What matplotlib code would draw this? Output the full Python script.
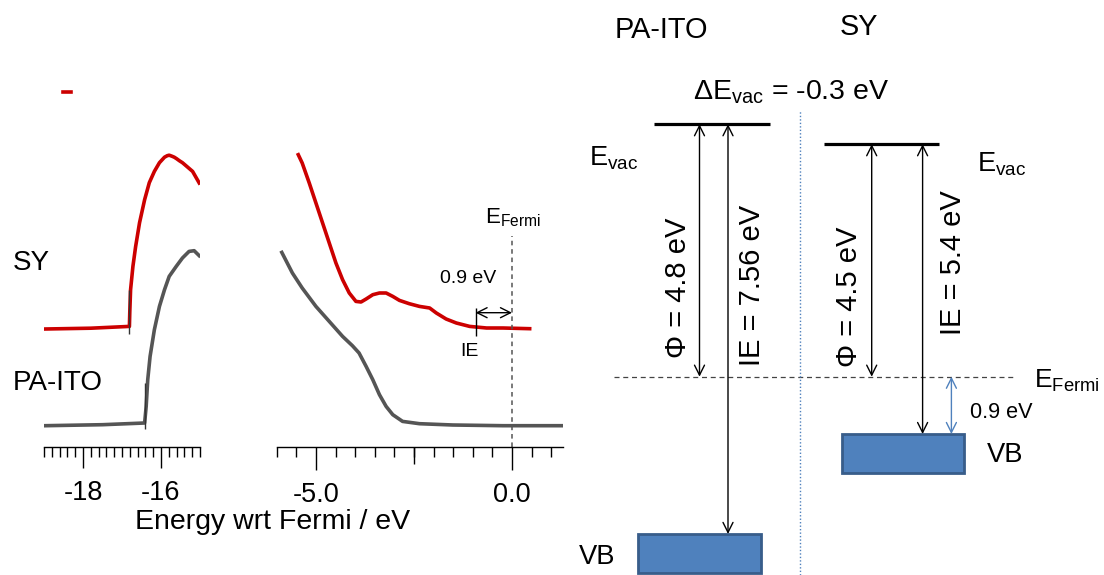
import matplotlib; matplotlib.use("Agg")
import matplotlib.pyplot as plt
from matplotlib.ticker import MultipleLocator, FormatStrFormatter
from matplotlib.patches import Rectangle

plt.rcParams['font.family'] = ['Liberation Sans', 'DejaVu Sans']
plt.rcParams['mathtext.fontset'] = 'custom'
plt.rcParams['mathtext.rm'] = 'Liberation Sans'
plt.rcParams['mathtext.it'] = 'Liberation Sans:italic'
plt.rcParams['axes.unicode_minus'] = False

# ---- UPS spectra (energy wrt Fermi / eV, intensity a.u.)
sy_cut_e = [-18.97, -17.8, -16.81, -16.80, -16.78, -16.72, -16.65, -16.55, -16.42, -16.30, -16.17,
            -16.04, -15.91, -15.84, -15.79, -15.72, -15.66, -15.60, -15.53, -15.45, -15.36, -15.19, -15.02]
sy_cut_i = [117.7, 118.5, 120.3, 135, 157, 180.3, 200.3, 224, 247, 264, 275.3,
            284, 289.5, 291, 291.5, 290.5, 289.5, 288, 286, 284, 281, 275.3, 263.7]
ito_cut_e = [-18.97, -17.5, -16.42, -16.38, -16.34, -16.28, -16.17, -16.04, -15.91, -15.79,
             -15.61, -15.45, -15.28, -15.15, -15.02]
ito_cut_i = [21, 22, 23.7, 40.3, 67, 90.3, 117, 140.3, 157, 170.3,
             180.3, 188.7, 195.3, 196, 191]
sy_cutoff = -16.81
ito_cutoff = -16.42
stray_e = [-18.52, -18.32]   # little red dash left over in the original
stray_i = [354.3, 354.3]

sy_val_e = [-5.45, -5.35, -5.17, -5.00, -4.83, -4.66, -4.49, -4.32, -4.15, -3.98, -3.85, -3.72,
            -3.55, -3.38, -3.21, -3.04, -2.87, -2.62, -2.36, -2.10, -1.93, -1.68, -1.42, -1.08,
            -0.65, -0.23, 0.45]
sy_val_i = [292, 283.7, 263.7, 243.7, 223.7, 203.7, 183.7, 167, 153.7, 145.3, 144.7, 147.7,
            152, 153.7, 153.7, 150.3, 146.3, 143, 140.3, 138.7, 133.7, 127.7, 123.7, 120.3,
            118.7, 118.7, 118]
ito_val_e = [-5.87, -5.60, -5.35, -5.00, -4.66, -4.32, -4.07, -3.90, -3.72, -3.55, -3.38, -3.21,
             -3.04, -2.79, -2.36, -1.51, -0.23, 1.30]
ito_val_i = [194.3, 173.7, 158.7, 140.3, 125.3, 110.3, 101, 93.7, 80.3, 67, 52, 40.3,
             32, 25.3, 23, 21.7, 21, 21]
sy_ie_onset = -0.93

# ---- energy level diagram
materials = ['PA-ITO', 'SY']
work_function = [4.8, 4.5]
ionisation_energy = [7.56, 5.4]
hole_barrier = 0.9
delta_evac = -0.3
# positions as drawn in the schematic (eV above E_F)
evac_drawn = [4.80, 4.42]
vb_top_drawn = [-2.99, -1.09]
vb_depth = 0.75

RED, GREY = '#CC0000', '#555555'
BLUE, BLUE_EDGE = '#4F81BD', '#385D8A'
W, H = 1104, 575
fx = lambda px: px / W
fy = lambda py: 1 - py / H

fig = plt.figure(figsize=(W / 100, H / 100), dpi=100)
ax_bot, ax_top = 446.7, 60
ax1 = fig.add_axes([fx(44), fy(ax_bot), fx(200 - 44), (ax_bot - ax_top) / H])
ax2 = fig.add_axes([fx(276.7), fy(ax_bot), fx(563 - 276.7), (ax_bot - ax_top) / H])

for ax in (ax1, ax2):
    ax.set_ylim(0, ax_bot - ax_top)
    for s in ('left', 'right', 'top'):
        ax.spines[s].set_visible(False)
    ax.spines['bottom'].set_linewidth(1.0)
    ax.set_yticks([])
    ax.patch.set_alpha(0)
    ax.tick_params(axis='x', which='both', direction='out', width=1.0, labelsize=19.5, pad=9)

lw = 2.6
ax1.plot(sy_cut_e, sy_cut_i, color=RED, lw=lw, solid_joinstyle='round')
ax1.plot(ito_cut_e, ito_cut_i, color=GREY, lw=lw, solid_joinstyle='round')
ax1.plot(stray_e, stray_i, color=RED, lw=lw)
ax1.vlines(sy_cutoff, 112.7, 157, color='#333333', lw=1.0)
ax1.vlines(ito_cutoff, 17.7, 63.7, color='#333333', lw=1.0)
ax1.set_xlim(-19, -15)
ax1.xaxis.set_major_locator(MultipleLocator(2))
ax1.xaxis.set_minor_locator(MultipleLocator(0.2))
ax1.xaxis.set_major_formatter(FormatStrFormatter('%d'))
ax1.tick_params(axis='x', which='major', length=15)
ax1.tick_params(axis='x', which='minor', length=7)

ax2.plot(sy_val_e, sy_val_i, color=RED, lw=lw, solid_joinstyle='round')
ax2.plot(ito_val_e, ito_val_i, color=GREY, lw=lw, solid_joinstyle='round')
ax2.vlines(0, 0, 211, color='#555555', lw=1.1, linestyles=(0, (3, 2.5)))
ax2.vlines(sy_ie_onset, 111, 139, color='k', lw=1.0)
ax2.annotate('', xy=(0, 134), xytext=(sy_ie_onset, 134),
             arrowprops=dict(arrowstyle='<->', lw=1.0, color='k', mutation_scale=18,
                             shrinkA=0, shrinkB=0))
ax2.text(-1.11, 168, f'{hole_barrier} eV', ha='center', va='center', fontsize=14)
ax2.text(-1.08, 95, 'IE', ha='center', va='center', fontsize=14)
ax2.text(-0.70, 223.7, r'$\mathregular{E_{Fermi}}$', ha='left', va='baseline', fontsize=16)
ax2.set_xlim(-6, 1.3)
ax2.xaxis.set_major_locator(MultipleLocator(5))
ax2.xaxis.set_minor_locator(MultipleLocator(0.5))
ax2.xaxis.set_major_formatter(FormatStrFormatter('%.1f'))
ax2.tick_params(axis='x', which='major', length=16.5)
ax2.tick_params(axis='x', which='minor', length=7.5)
sec = ax2.secondary_xaxis('bottom')
sec.set_xticks([-2.5])
sec.set_xticklabels([])
sec.tick_params(length=12.5, width=1.0)
sec.spines['bottom'].set_visible(False)

fig.text(fx(12.5), fy(270), 'SY', ha='left', va='baseline', fontsize=20)
fig.text(fx(12.5), fy(390), 'PA-ITO', ha='left', va='baseline', fontsize=20)
fig.text(fx(273), fy(529), 'Energy wrt Fermi / eV', ha='center', va='baseline', fontsize=20.5)

# ---- diagram
ef_px, scale = 376.7, 52.6
ax3 = fig.add_axes([fx(560), 0, fx(544), 1])
ax3.set_xlim(0, 544)
ax3.set_ylim(-(H - ef_px) / scale, ef_px / scale)
ax3.axis('off')

col_x = [(94.2, 209.6), (263.9, 378.5)]
phi_x = [139.5, 311.7]
ie_x = [168, 362.6]
box_x = [(77.9, 200.8), (281.6, 404.2)]
arrow = dict(arrowstyle='<->', lw=1.0, color='k', mutation_scale=18, shrinkA=0, shrinkB=0)

ax3.hlines(0, 53.7, 453.7, colors='#444444', lw=0.9, linestyles=(0, (4, 3)))
ax3.vlines(240, ax3.get_ylim()[0], (ef_px - 111) / scale, colors=BLUE, lw=1.0, linestyles=(0, (1, 1.5)))
for i in range(2):
    ax3.hlines(evac_drawn[i], *col_x[i], colors='k', lw=2.3)
    ax3.annotate('', xy=(phi_x[i], 0), xytext=(phi_x[i], evac_drawn[i]), arrowprops=arrow)
    ax3.annotate('', xy=(ie_x[i], vb_top_drawn[i]), xytext=(ie_x[i], evac_drawn[i]), arrowprops=arrow)
    x0, x1 = box_x[i]
    ax3.add_patch(Rectangle((x0, vb_top_drawn[i] - vb_depth), x1 - x0, vb_depth,
                            facecolor=BLUE, edgecolor=BLUE_EDGE, lw=2))
ax3.annotate('', xy=(391.4, vb_top_drawn[1]), xytext=(391.4, 0),
             arrowprops=dict(arrow, color=BLUE))

yv = lambda py: (ef_px - py) / scale
ax3.text(101.8, yv(38), materials[0], ha='center', va='baseline', fontsize=20.8)
ax3.text(299.2, yv(35), materials[1], ha='center', va='baseline', fontsize=20.8)
ax3.text(230.7, yv(100), r'$\mathregular{\Delta E_{vac}}$' + f' = {delta_evac} eV',
         ha='center', va='baseline', fontsize=20.5)
ax3.text(29.1, yv(165), r'$\mathregular{E_{vac}}$', ha='left', va='baseline', fontsize=19.5)
ax3.text(416.6, yv(171.7), r'$\mathregular{E_{vac}}$', ha='left', va='baseline', fontsize=19.5)
ax3.text(474.5, yv(388), r'$\mathregular{E_{Fermi}}$', ha='left', va='baseline', fontsize=19)
ax3.text(410.4, yv(418.3), f'{hole_barrier} eV', ha='left', va='baseline', fontsize=15.6)
ax3.text(426.7, yv(461.7), 'VB', ha='left', va='baseline', fontsize=19.7)
ax3.text(18.7, yv(564), 'VB', ha='left', va='baseline', fontsize=19.7)
ax3.text(117.7, yv(288), f'Φ = {work_function[0]} eV', rotation=90, ha='center', va='center', fontsize=21)
ax3.text(192.2, yv(285), f'IE = {ionisation_energy[0]} eV', rotation=90, ha='center', va='center', fontsize=21)
ax3.text(289.2, yv(296.7), f'Φ = {work_function[1]} eV', rotation=90, ha='center', va='center', fontsize=21)
ax3.text(393.1, yv(262.5), f'IE = {ionisation_energy[1]} eV', rotation=90, ha='center', va='center', fontsize=21)

fig.savefig('out.png', dpi=100)
